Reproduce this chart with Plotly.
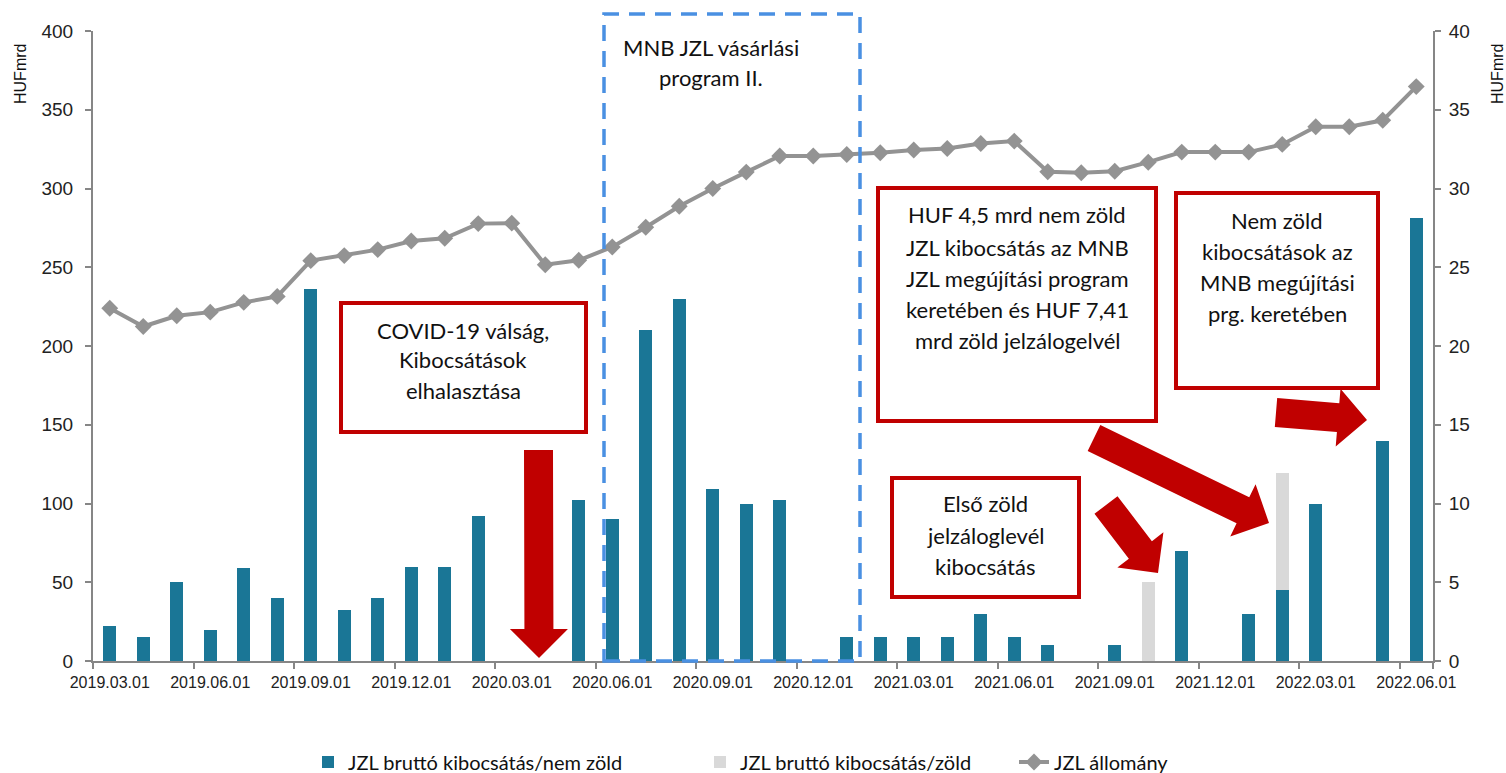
import math
import pandas as pd
import plotly.graph_objects as go

# ---------------- data ----------------
months = pd.date_range("2019-03-01", periods=40, freq="MS").strftime("%Y.%m.%d").tolist()

nem_zold = [2.25, 1.5, 5.0, 2.0, 5.9, 4.0, 23.6, 3.25, 4.0, 6.0, 6.0, 9.2, 0, 0,
            10.2, 9.0, 21.0, 23.0, 10.9, 10.0, 10.2, 0, 1.5, 1.5, 1.5, 1.5, 3.0,
            1.5, 1.0, 0, 1.0, 0, 7.0, 0, 3.0, 4.5, 10.0, 0, 14.0, 28.1]
zold = [0] * 31 + [5.0, 0, 0, 0, 7.41, 0, 0, 0, 0]
allomany = [224, 212.4, 219.2, 221.5, 227.7, 231.5, 254.2, 257.4, 261.2, 266.7,
            268.4, 277.7, 278, 251.6, 254.4, 262.9, 275.4, 288.7, 300, 310.4,
            320.6, 320.6, 321.6, 322.7, 324.4, 325.4, 328.6, 330.1, 310.6, 310,
            311, 316.7, 323.1, 323.1, 323.1, 328, 339.2, 339.2, 343.3, 364.7]

tick_labels = months[::3]

# ---------------- layout geometry ----------------
W, H = 1506, 773
L, R, T, B = 93, 73, 31, 112
PW, PH = W - L - R, H - T - B


def px(x):
    return (x - L) / PW


def py(y):
    return (H - B - y) / PH


BLUE = "#1a7696"
LIGHT = "#d9d9d9"
GRAY = "#939393"
RED = "#c00000"
AXIS = "#868686"
TXT_FONT = "Lato, Calibri, Noto Sans, sans-serif"
AX_FONT = "Liberation Sans, Arial, sans-serif"

fig = go.Figure()
fig.add_trace(go.Bar(x=months, y=nem_zold, name="JZL bruttó kibocsátás/nem zöld",
                     marker=dict(color=BLUE, line=dict(width=0)), yaxis="y2",
                     legend="legend"))
fig.add_trace(go.Bar(x=months, y=zold, name="JZL bruttó kibocsátás/zöld",
                     marker=dict(color=LIGHT, line=dict(width=0)), yaxis="y2",
                     legend="legend2"))
fig.add_trace(go.Scatter(x=months, y=allomany, name="JZL állomány", mode="lines+markers",
                         line=dict(color=GRAY, width=4),
                         marker=dict(symbol="diamond", size=13, color=GRAY),
                         yaxis="y", legend="legend3"))

shapes = []
annotations = []

# dashed rectangle (MNB programme)
shapes.append(dict(type="rect", xref="paper", yref="paper",
                   x0=px(604), x1=px(860), y0=py(661), y1=py(14),
                   line=dict(color="#4a90e2", width=3.5, dash="16px,10px"),
                   fillcolor="rgba(0,0,0,0)", layer="above"))


def box(x0, y0, x1, y1):
    shapes.append(dict(type="rect", xref="paper", yref="paper",
                       x0=px(x0), x1=px(x1), y0=py(y1), y1=py(y0),
                       line=dict(color=RED, width=4), fillcolor="white", layer="above"))


def lines(xc, ys, texts, size=22):
    for yy, t in zip(ys, texts):
        annotations.append(dict(xref="paper", yref="paper", x=px(xc), y=py(yy),
                                xanchor="center", yanchor="middle", text=t,
                                showarrow=False,
                                font=dict(family=TXT_FONT, size=size, color="#111111")))


def arrow(tail, tip, sw=29, hw=58, hl=29):
    x0, y0 = tail
    x1, y1 = tip
    dx, dy = x1 - x0, y1 - y0
    d = math.hypot(dx, dy)
    ux, uy = dx / d, dy / d
    nx, ny = -uy, ux
    bx, by = x1 - ux * hl, y1 - uy * hl
    pts = [(x0 + nx * sw / 2, y0 + ny * sw / 2),
           (bx + nx * sw / 2, by + ny * sw / 2),
           (bx + nx * hw / 2, by + ny * hw / 2),
           (x1, y1),
           (bx - nx * hw / 2, by - ny * hw / 2),
           (bx - nx * sw / 2, by - ny * sw / 2),
           (x0 - nx * sw / 2, y0 - ny * sw / 2)]
    path = "M " + " L ".join(f"{px(a):.5f},{py(b):.5f}" for a, b in pts) + " Z"
    shapes.append(dict(type="path", xref="paper", yref="paper", path=path,
                       fillcolor=RED, line=dict(width=0), layer="above"))


# MNB text
lines(711, [47, 78], ["MNB JZL vásárlási", "program II."])

# COVID box
box(341, 303, 586, 432)
lines(463, [330, 360, 390], ["COVID-19 válság,", "Kibocsátások", "elhalasztása"])
arrow((538.5, 450), (539, 658))

# Big box
box(878, 188, 1156, 421)
lines(1017, [215, 247, 278, 309, 340],
      ["HUF 4,5 mrd nem zöld", "JZL kibocsátás az MNB", "JZL megújítási program",
       "keretében és HUF 7,41", "mrd zöld jelzálogelvél"])
arrow((1094, 438), (1269, 523))

# Nem zöld box
box(1176, 193, 1378, 388)
lines(1277, [220, 251, 282, 313],
      ["Nem zöld", "kibocsátások az", "MNB megújítási", "prg. keretében"])
arrow((1276, 412.5), (1367, 420))

# Első zöld box
box(892, 478, 1079, 597)
lines(985, [503, 535, 566], ["Első zöld", "jelzáloglevél", "kibocsátás"])
arrow((1106, 505), (1158, 573))

# axis titles
for xx in (21, 1498):
    annotations.append(dict(xref="paper", yref="paper", x=px(xx), y=py(74),
                            xanchor="center", yanchor="middle", text="HUFmrd",
                            textangle=-90, showarrow=False,
                            font=dict(family=AX_FONT, size=16, color="#111111")))


def legend_at(text_left):
    return dict(orientation="h", x=px(text_left - 40), xanchor="left",
                y=py(762), yanchor="middle", bgcolor="rgba(0,0,0,0)",
                font=dict(family=TXT_FONT, size=20, color="#111111"))


fig.update_layout(
    width=W, height=H,
    margin=dict(l=L, r=R, t=T, b=B, autoexpand=False),
    paper_bgcolor="white", plot_bgcolor="white",
    barmode="stack", bargap=0.6,
    showlegend=True,
    legend=legend_at(348),
    legend2=legend_at(740),
    legend3=legend_at(1054),
    xaxis=dict(type="category", range=[-0.5, 39.5], autorange=False,
               tickmode="array", tickvals=tick_labels, ticktext=tick_labels,
               tickson="boundaries", ticks="outside", ticklen=6, tickcolor=AXIS, tickwidth=2,
               showline=True, linecolor=AXIS, linewidth=2, showgrid=False,
               tickangle=0, ticklabelstandoff=6,
               tickfont=dict(family=AX_FONT, size=16, color="#222222")),
    yaxis=dict(range=[0, 400], dtick=50, ticks="outside", ticklen=6, tickcolor=AXIS,
               tickwidth=2, showline=True, linecolor=AXIS, linewidth=2, showgrid=False,
               zeroline=False, ticklabelstandoff=8,
               tickfont=dict(family=AX_FONT, size=19, color="#222222")),
    yaxis2=dict(range=[0, 40], dtick=5, overlaying="y", side="right", ticks="outside",
                ticklen=6, tickcolor=AXIS, tickwidth=2, showline=True, linecolor=AXIS,
                linewidth=2, showgrid=False, zeroline=False, ticklabelstandoff=4,
                tickfont=dict(family=AX_FONT, size=19, color="#222222")),
    shapes=shapes,
    annotations=annotations,
)

fig.write_html("out.html", config={"displayModeBar": False},
               post_script="document.body.style.margin='0';document.body.style.overflow='hidden';")
